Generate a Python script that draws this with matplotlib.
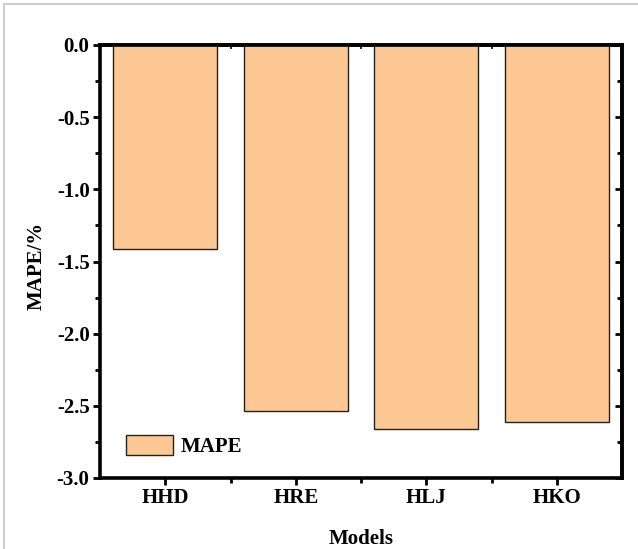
import numpy as np
import matplotlib
matplotlib.use('Agg')
import matplotlib.pyplot as plt
from matplotlib.patches import Rectangle
from matplotlib.ticker import MultipleLocator, FixedLocator

plt.rcParams['font.family'] = ['Liberation Serif', 'DejaVu Serif']
plt.rcParams['font.weight'] = 'bold'
plt.rcParams['axes.unicode_minus'] = False

models = ['HHD', 'HRE', 'HLJ', 'HKO']
mape = [-1.41, -2.535, -2.66, -2.615]

fs = 15

fig = plt.figure(figsize=(6.38, 5.49), dpi=100)
ax = fig.add_axes([100/638, 1 - 478/549, 522/638, 433/549])

# light grey frame around the whole picture
fig.patches.append(Rectangle((4/638, -0.1), 1.2, 1 - 4/549 + 0.1, transform=fig.transFigure,
                             fill=False, edgecolor='#c4c4c4', linewidth=1.2))

x = np.arange(1, len(models) + 1)
ax.bar(x, mape, width=0.8, color='#FEC894', edgecolor='#222222', linewidth=1.0, label='MAPE')

ax.set_xlim(0.5, 4.5)
ax.set_ylim(-3.0, 0.0)
ax.set_xticks(x)
ax.set_xticklabels(models)
ax.xaxis.set_minor_locator(FixedLocator([1.5, 2.5, 3.5]))
ax.yaxis.set_major_locator(MultipleLocator(0.5))
ax.yaxis.set_minor_locator(MultipleLocator(0.25))
ax.yaxis.set_major_formatter(matplotlib.ticker.FormatStrFormatter('%.1f'))

for s in ax.spines.values():
    s.set_linewidth(2.6)

ax.tick_params(which='major', direction='out', length=5, width=2, labelsize=fs, pad=2.5)
ax.tick_params(which='minor', direction='out', length=3.5, width=2)

# mirrored ticks on top and right, pointing into the plot
top = ax.secondary_xaxis('top')
top.set_xticks(x)
top.xaxis.set_minor_locator(FixedLocator([1.5, 2.5, 3.5]))
top.tick_params(which='major', direction='in', length=5, width=1.2, labeltop=False)
top.tick_params(which='minor', direction='in', length=3, width=1.2)
top.spines['top'].set_linewidth(2.6)

right = ax.secondary_yaxis('right')
right.yaxis.set_major_locator(MultipleLocator(0.5))
right.yaxis.set_minor_locator(MultipleLocator(0.25))
right.tick_params(which='major', direction='in', length=5, width=2, labelright=False)
right.tick_params(which='minor', direction='in', length=3.5, width=2)
right.spines['right'].set_linewidth(2.6)

ax.set_xlabel('Models', fontsize=fs, fontweight='bold')
ax.set_ylabel('MAPE/%', fontsize=fs, fontweight='bold')
ax.xaxis.set_label_coords(0.5, -0.118)
ax.yaxis.set_label_coords(-0.102, 0.49)

ax.legend(loc='lower left', frameon=False, fontsize=fs, handlelength=2.26, handleheight=1.15,
          handletextpad=0.34, borderpad=0, borderaxespad=0, bbox_to_anchor=(0.05, 0.048))

fig.savefig('out.png', dpi=100)
